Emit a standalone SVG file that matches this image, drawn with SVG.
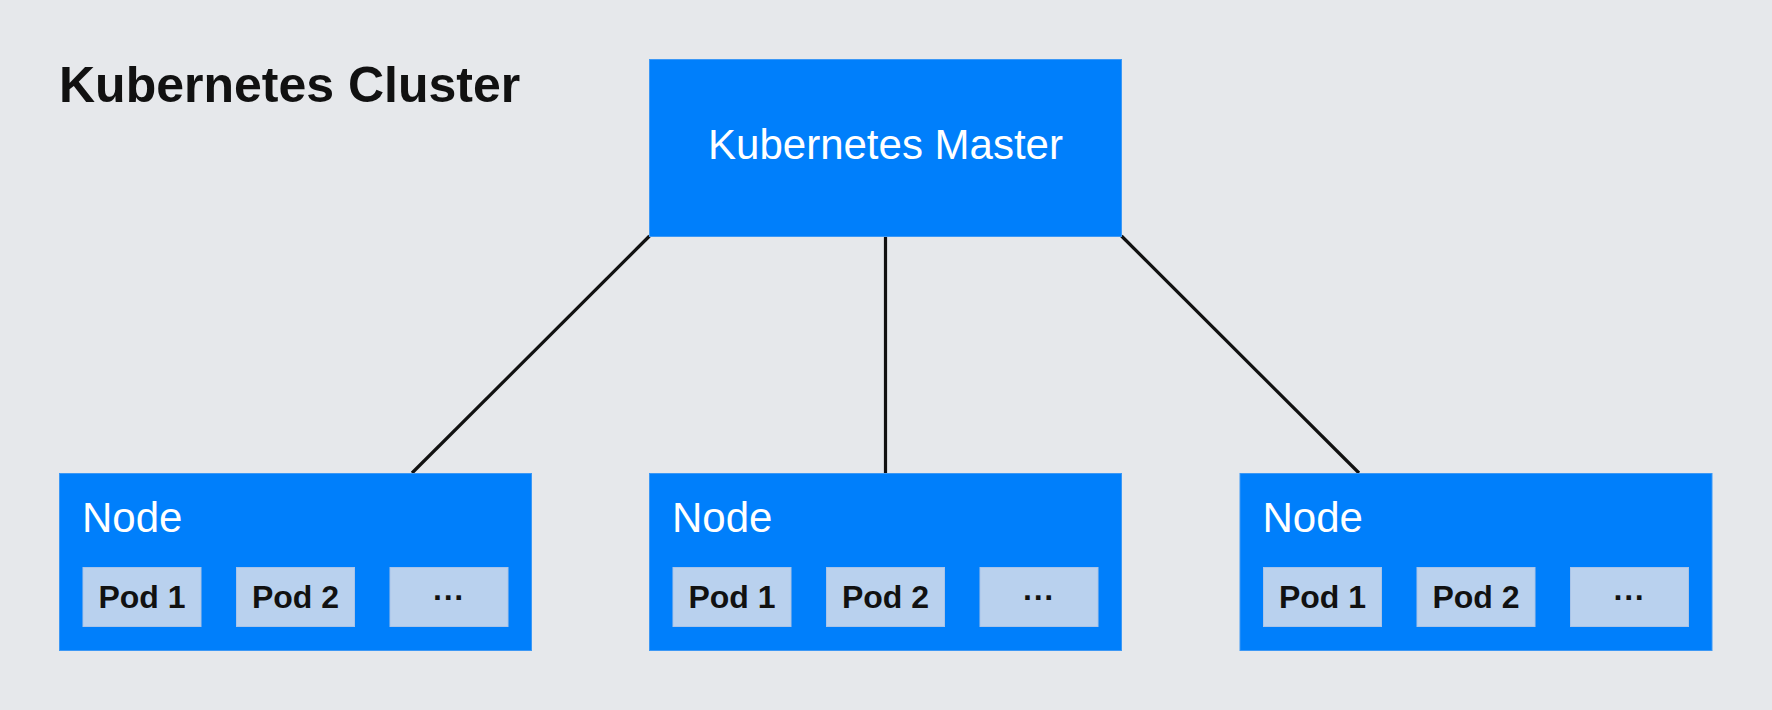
<svg xmlns="http://www.w3.org/2000/svg" width="1772" height="710" viewBox="0 0 1772 710">
<style>
.bg{fill:#e6e8eb}
.box{fill:#007ffb;stroke:#3c98f5;stroke-width:1}
.pod{fill:#b9d1ee;stroke:#a9c4e8;stroke-width:1}
.w{fill:#ffffff;font-family:"Liberation Sans",Arial,sans-serif;font-size:42px}
.pt{fill:#111111;font-family:"Liberation Sans",Arial,sans-serif;font-size:32px;font-weight:bold;text-anchor:middle}
.title{fill:#111111;font-family:"Liberation Sans",Arial,sans-serif;font-size:50px;font-weight:bold}
.ln{stroke:#111111;stroke-width:3.2;fill:none}
</style>
<rect class="bg" x="0" y="0" width="1772" height="710"/>
<text class="title" x="59" y="102">Kubernetes Cluster</text>
<g id="connectors">
<line class="ln" x1="649.5" y1="236" x2="412" y2="473"/>
<line class="ln" x1="885.5" y1="236" x2="885.5" y2="473"/>
<line class="ln" x1="1121.5" y1="236" x2="1359" y2="473"/>
</g>
<g id="master">
<rect class="box" x="649.5" y="59.5" width="472" height="177"/>
<text class="w" x="885.5" y="159" text-anchor="middle">Kubernetes Master</text>
</g>
<g id="node1">
<rect class="box" x="59.5" y="473.5" width="472" height="177"/>
<text class="w" x="82" y="532">Node</text>
<rect class="pod" x="83" y="567.5" width="118" height="59"/>
<text class="pt" x="142" y="608">Pod 1</text>
<rect class="pod" x="236.5" y="567.5" width="118" height="59"/>
<text class="pt" x="295.5" y="608">Pod 2</text>
<rect class="pod" x="390" y="567.5" width="118" height="59"/>
<text class="pt" x="449" y="608">···</text>
</g>
<g id="node2">
<rect class="box" x="649.5" y="473.5" width="472" height="177"/>
<text class="w" x="672" y="532">Node</text>
<rect class="pod" x="673" y="567.5" width="118" height="59"/>
<text class="pt" x="732" y="608">Pod 1</text>
<rect class="pod" x="826.5" y="567.5" width="118" height="59"/>
<text class="pt" x="885.5" y="608">Pod 2</text>
<rect class="pod" x="980" y="567.5" width="118" height="59"/>
<text class="pt" x="1039" y="608">···</text>
</g>
<g id="node3">
<rect class="box" x="1240" y="473.5" width="472" height="177"/>
<text class="w" x="1262.5" y="532">Node</text>
<rect class="pod" x="1263.5" y="567.5" width="118" height="59"/>
<text class="pt" x="1322.5" y="608">Pod 1</text>
<rect class="pod" x="1417" y="567.5" width="118" height="59"/>
<text class="pt" x="1476" y="608">Pod 2</text>
<rect class="pod" x="1570.5" y="567.5" width="118" height="59"/>
<text class="pt" x="1629.5" y="608">···</text>
</g>
</svg>
